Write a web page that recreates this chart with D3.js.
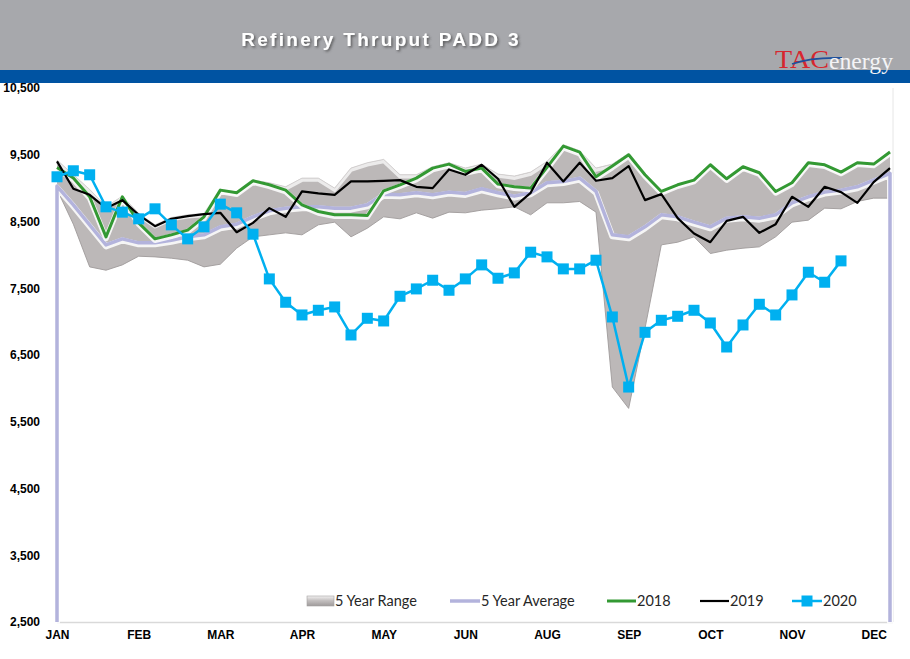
<!DOCTYPE html>
<html>
<head>
<meta charset="utf-8">
<script src="https://cdn.jsdelivr.net/npm/d3@7"></script>
<style>
  html, body { margin: 0; padding: 0; background: #ffffff; }
  svg { display: block; }
</style>
</head>
<body>
<script>
// ---------------- DATA ----------------
const monthLabels = ["JAN","FEB","MAR","APR","MAY","JUN","AUG","SEP","OCT","NOV","DEC"];
const monthTickWeeks = [0,5,10,15,20,25,30,35,40,45,50];
const yTickValues = [2500,3500,4500,5500,6500,7500,8500,9500,10500];

const rangeUpper = [9420,9200,8980,8720,8880,8620,8450,8560,8600,8620,
                    8980,8940,9120,9080,9020,9150,9150,9000,9300,9380,
                    9430,9200,9200,9320,9380,9300,9360,9210,9180,9240,
                    9400,9650,9560,9300,9360,9520,9210,8960,9060,9130,
                    9360,9150,9330,9240,8960,9090,9390,9360,9250,9390,9370,9550];
const rangeLower = [8980,8460,7820,7770,7850,7980,7970,7950,7920,7820,
                    7860,8100,8270,8300,8330,8300,8450,8490,8270,8400,
                    8570,8540,8630,8550,8640,8630,8670,8690,8720,8600,
                    8780,8780,8800,8640,6020,5700,6900,8150,8190,8270,
                    8020,8070,8100,8120,8270,8490,8520,8700,8690,8800,8850,8850];
const avg5yr = [9030,8750,8450,8150,8240,8180,8180,8220,8270,8300,
                8420,8460,8570,8660,8700,8720,8720,8700,8700,8750,
                8910,8900,8930,8900,8940,8920,8990,8930,8880,8930,
                9080,9100,9150,8950,8300,8270,8420,8600,8570,8490,
                8420,8550,8570,8550,8600,8780,8870,8940,8970,9020,9120,9220];
const y2018 = [9310,9150,8870,8270,8870,8480,8240,8300,8370,8570,
               8970,8930,9110,9050,8970,8750,8650,8600,8600,8590,
               8960,9050,9150,9300,9360,9250,9300,9060,9020,9000,
               9310,9630,9540,9170,9330,9500,9200,8950,9050,9120,
               9350,9140,9320,9230,8950,9080,9380,9350,9240,9380,9360,9540];
const y2019 = [9400,8990,8900,8700,8820,8600,8430,8540,8580,8610,
               8630,8340,8480,8700,8570,8950,8920,8900,9100,9100,
               9110,9120,9020,9000,9280,9200,9350,9140,8720,8930,
               9380,9100,9380,9110,9150,9330,8820,8910,8550,8320,
               8190,8510,8570,8330,8460,8870,8720,9020,8940,8780,9090,9300];
const y2020 = [9170,9260,9200,8720,8640,8540,8690,8450,8240,8420,
               8760,8630,8310,7640,7290,7100,7170,7220,6800,7050,
               7010,7380,7490,7620,7470,7640,7850,7650,7730,8040,
               7970,7790,7790,7920,7070,6020,6840,7020,7080,7170,
               6980,6620,6950,7260,7100,7400,7740,7590,7910];
const legendNames = ["5 Year Range","5 Year Average","2018","2019","2020"];
const titleText = "Refinery Thruput PADD 3";

// ---------------- LAYOUT ----------------
const W = 910, H = 659;
const plot = {left: 57, right: 890, top: 88, bottom: 622};
const nWeeks = rangeUpper.length;

const x = d3.scaleLinear().domain([0, nWeeks - 1]).range([plot.left, plot.right]);
const y = d3.scaleLinear().domain([2500, 10500]).range([plot.bottom, plot.top]);

const svg = d3.select("body").append("svg").attr("width", W).attr("height", H);
const defs = svg.append("defs");

const shadow = defs.append("filter").attr("id","tshadow").attr("x","-10%").attr("y","-30%").attr("width","130%").attr("height","180%");
shadow.append("feDropShadow").attr("dx",1.5).attr("dy",1.5).attr("stdDeviation",1).attr("flood-color","#3a3a3a").attr("flood-opacity",0.7);

const iconGrad = defs.append("linearGradient").attr("id","iconGrad").attr("x1",0).attr("y1",0).attr("x2",0).attr("y2",1);
iconGrad.append("stop").attr("offset","0%").attr("stop-color","#f2f1f1");
iconGrad.append("stop").attr("offset","45%").attr("stop-color","#c4c0c0");
iconGrad.append("stop").attr("offset","100%").attr("stop-color","#9e9a9a");

svg.append("rect").attr("width", W).attr("height", H).attr("fill", "#ffffff");

// ---------------- HEADER ----------------
svg.append("rect").attr("x",0).attr("y",0).attr("width",W).attr("height",70).attr("fill","#a7a8ac");
svg.append("rect").attr("x",0).attr("y",70).attr("width",W).attr("height",13).attr("fill","#0053a2");

svg.append("text")
  .attr("x", 381).attr("y", 46)
  .attr("text-anchor","middle")
  .attr("font-family","'Liberation Sans', Arial, sans-serif")
  .attr("font-weight","bold")
  .attr("font-size",19)
  .attr("letter-spacing","2.3px")
  .attr("fill","#ffffff")
  .attr("filter","url(#tshadow)")
  .text(titleText);

// logo
const logo = svg.append("g");
logo.append("text")
  .attr("x", 775).attr("y", 68)
  .attr("font-family","'Liberation Serif', 'Times New Roman', serif")
  .attr("font-size", 25)
  .attr("fill","#d7262f")
  .attr("textLength", 54).attr("lengthAdjust","spacingAndGlyphs")
  .text("TAC");
logo.append("path")
  .attr("d","M792,64 Q812,57 842,58")
  .attr("fill","none").attr("stroke","#1d4f9c").attr("stroke-width",1.8);
logo.append("text")
  .attr("x", 829).attr("y", 69)
  .attr("font-family","'Liberation Serif', 'Times New Roman', serif")
  .attr("font-size", 23)
  .attr("fill","#f4f4f6")
  .attr("textLength", 64).attr("lengthAdjust","spacingAndGlyphs")
  .text("energy");

// ---------------- PLOT FRAME ----------------
svg.append("line").attr("x1",plot.left).attr("x2",893).attr("y1",plot.bottom+0.5).attr("y2",plot.bottom+0.5)
  .attr("stroke","#d9d9d9").attr("stroke-width",1.5);
svg.append("line").attr("x1",893).attr("x2",893).attr("y1",plot.top).attr("y2",plot.bottom)
  .attr("stroke","#e6e6e6").attr("stroke-width",1);

// ---------------- 5 YEAR RANGE ----------------
const weeks = d3.range(nWeeks);
const area = d3.area().x(i => x(i)).y0(i => y(rangeLower[i])).y1(i => y(rangeUpper[i]));
svg.append("path").datum(weeks).attr("d", area).attr("fill","#bcb8b8");
const upperLine = d3.line().x(i => x(i)).y(i => y(rangeUpper[i]));
const lowerLine = d3.line().x(i => x(i)).y(i => y(rangeLower[i]));
svg.append("path").datum(weeks).attr("d", lowerLine).attr("fill","none")
  .attr("stroke","#9f9b9b").attr("stroke-width",0.9);
svg.append("path").datum(weeks).attr("d", upperLine).attr("fill","none")
  .attr("stroke","#ecebeb").attr("stroke-width",3.5).attr("transform","translate(0,2)");
svg.append("path").datum(weeks).attr("d", upperLine).attr("fill","none")
  .attr("stroke","#d3d0d0").attr("stroke-width",1);

// ---------------- LINES ----------------
function drawLine(values, color, width, glow, anchorBase) {
  let pts = values.map((v, i) => [x(i), y(v)]);
  if (anchorBase) {
    pts = [[x(0), y(2500)]].concat(pts, [[x(values.length - 1), y(2500)]]);
  }
  const gen = d3.line();
  if (glow) {
    svg.append("path").attr("d", gen(pts)).attr("fill","none")
      .attr("stroke","#ffffff").attr("stroke-opacity",0.85)
      .attr("stroke-width", width + 2.5).attr("stroke-linejoin","round")
      .attr("transform","translate(0,1.5)");
  }
  svg.append("path").attr("d", gen(pts)).attr("fill","none")
    .attr("stroke", color).attr("stroke-width", width).attr("stroke-linejoin","round");
}

drawLine(avg5yr, "#b3b3dc", 3.5, true, true);
drawLine(y2018, "#339933", 3, true, false);
drawLine(y2019, "#000000", 2.2, false, false);
drawLine(y2020, "#00b0f0", 2.5, false, false);

svg.append("g").selectAll("rect").data(y2020).join("rect")
  .attr("x", (d, i) => x(i) - 5.5).attr("y", d => y(d) - 5.5)
  .attr("width", 11).attr("height", 11)
  .attr("fill", "#00b0f0");

// ---------------- AXES ----------------
const yAxis = d3.axisLeft(y).tickValues(yTickValues).tickSize(0).tickPadding(0).tickFormat(d3.format(","));
const yg = svg.append("g").attr("transform","translate(40,0)").call(yAxis);
yg.select(".domain").remove();
yg.selectAll("text").attr("font-family","'Liberation Sans', Arial, sans-serif")
  .attr("font-weight","bold").attr("font-size",12).attr("fill","#000");

const xAxis = d3.axisBottom(x).tickValues(monthTickWeeks).tickSize(0).tickPadding(0)
  .tickFormat((d, i) => monthLabels[i]);
const xg = svg.append("g").attr("transform","translate(0,630)").call(xAxis);
xg.select(".domain").remove();
xg.selectAll("text").attr("font-family","'Liberation Sans', Arial, sans-serif")
  .attr("font-weight","bold").attr("font-size",12).attr("fill","#000");

// ---------------- LEGEND ----------------
const legY = 601;
const lg = svg.append("g").attr("font-family","Lato, 'Open Sans', sans-serif").attr("font-size",14.5).attr("fill","#262626");
const legendTextX = [335, 481, 637, 730, 823];
lg.append("rect").attr("x",307).attr("y",legY-5).attr("width",27).attr("height",10)
  .attr("fill","url(#iconGrad)").attr("stroke","#a5a1a1").attr("stroke-width",0.6);
lg.append("line").attr("x1",450).attr("x2",480).attr("y1",legY).attr("y2",legY)
  .attr("stroke","#b3b3dc").attr("stroke-width",3.5);
lg.append("line").attr("x1",607).attr("x2",636).attr("y1",legY).attr("y2",legY)
  .attr("stroke","#339933").attr("stroke-width",3);
lg.append("line").attr("x1",700).attr("x2",729).attr("y1",legY).attr("y2",legY)
  .attr("stroke","#000").attr("stroke-width",2.2);
lg.append("line").attr("x1",792).attr("x2",822).attr("y1",legY).attr("y2",legY)
  .attr("stroke","#00b0f0").attr("stroke-width",2.5);
lg.append("rect").attr("x",801.5).attr("y",legY-5.5).attr("width",11).attr("height",11).attr("fill","#00b0f0");

lg.selectAll("text.lt").data(legendNames).join("text").attr("class","lt")
  .attr("x", (d, i) => legendTextX[i]).attr("y", legY).attr("dy","0.35em")
  .text(d => d);
</script>
</body>
</html>
